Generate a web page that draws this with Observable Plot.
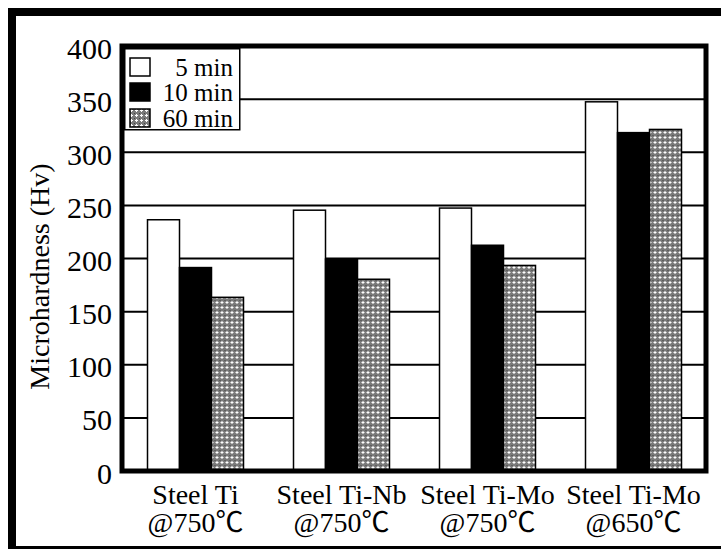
<!DOCTYPE html>
<html>
<head>
<meta charset="utf-8">
<script src="https://cdn.jsdelivr.net/npm/d3@7"></script>
<script src="https://cdn.jsdelivr.net/npm/@observablehq/plot@0.6"></script>
<style>
  html, body { margin: 0; padding: 0; background: white; overflow: hidden; }
  #wrap { position: relative; width: 721px; height: 551px; }
  .layer { position: absolute; left: 0; top: 0; }
  #border { position: absolute; left: 8px; top: 8px; width: 730px; height: 530px;
            border-top: 8px solid black; border-left: 8px solid black; border-bottom: 3px solid black; }
  #legend { position: absolute; left: 124px; top: 48px; }
</style>
</head>
<body>
<svg width="0" height="0" style="position:absolute">
  <defs>
    <pattern id="hatch60" width="5" height="5" patternUnits="userSpaceOnUse">
      <rect width="5" height="5" fill="#7a7a7a"></rect>
      <rect x="2" y="1" width="1" height="3" fill="white"></rect>
      <rect x="1" y="2" width="3" height="1" fill="white"></rect>
      <rect x="0" y="0" width="1" height="1" fill="#444"></rect>
    </pattern>
  </defs>
</svg>
<div id="wrap">
  <div id="border"></div>
  <div id="base" class="layer"></div>
  <div id="bars" class="layer"></div>
  <div id="frame" class="layer"></div>
  <div id="legend"></div>
</div>
<script>
const groups = ["Steel Ti\n@750℃", "Steel Ti-Nb\n@750℃", "Steel Ti-Mo\n@750℃", "Steel Ti-Mo\n@650℃"];
const series = ["5 min", "10 min", "60 min"];
const min5  = [236, 245, 247, 347];
const min10 = [191, 199, 212, 318];
const min60 = [163, 180, 193, 321];
const yTicks = [0, 50, 100, 150, 200, 250, 300, 350, 400];
const gridVals = [50, 100, 150, 200, 250, 300, 350];
const fills = ["white", "black", "url(#hatch60)"];

const valuesBySeries = [min5, min10, min60];
const data = [];
groups.forEach((g, i) => series.forEach((s, j) => data.push({group: g, series: s, value: valuesBySeries[j][i]})));

const font = "'Liberation Serif', 'Noto Sans CJK JP', serif";
const common = {
  width: 721,
  height: 551,
  marginLeft: 121.5,
  marginRight: 15.5,
  marginTop: 45.5,
  marginBottom: 80.5,
  style: {fontFamily: font, fontSize: "28px", color: "black", background: "transparent"}
};

// Base layer: grid lines, y tick labels, y label
const base = Plot.plot({
  ...common,
  x: {axis: null},
  y: {domain: [0, 400], axis: null},
  marks: [
    Plot.ruleY(gridVals, {stroke: "black", strokeWidth: 2}),
    Plot.text(yTicks, {y: d => d, text: d => String(d), frameAnchor: "left", textAnchor: "end", dx: -10, dy: 3, fontSize: 30}),
    Plot.text(["Microhardness (Hv)"], {frameAnchor: "left", textAnchor: "middle", rotate: -90, dx: -82, dy: 18, fontSize: 28})
  ]
});
document.getElementById("base").appendChild(base);

// Bars layer: grouped bars by facet and category labels
const bars = Plot.plot({
  ...common,
  fx: {domain: groups, paddingInner: 0.33, paddingOuter: 0.165, label: null, tickSize: 0, tickPadding: 13},
  x: {domain: series, padding: 0, axis: null},
  y: {domain: [0, 400], axis: null},
  color: {domain: series, range: fills},
  marks: [
    Plot.barY(data, {fx: "group", x: "series", y: "value", fill: "series", stroke: "black", strokeWidth: 1.5})
  ]
});
document.getElementById("bars").appendChild(bars);

// Frame layer on top
const frame = Plot.plot({
  ...common,
  x: {axis: null},
  y: {domain: [0, 400], axis: null},
  marks: [Plot.frame({stroke: "black", strokeWidth: 5})]
});
document.getElementById("frame").appendChild(frame);

// Legend
const lg = d3.select("#legend").append("svg").attr("width", 117).attr("height", 83)
  .style("font-family", font).style("font-size", "25px");
lg.append("rect").attr("x", 0.75).attr("y", 0.75).attr("width", 115).attr("height", 81)
  .attr("fill", "white").attr("stroke", "black").attr("stroke-width", 1.5);
const rowY = [19, 44, 70];
series.forEach((s, j) => {
  lg.append("rect").attr("x", 6).attr("y", rowY[j] - 9).attr("width", 20).attr("height", 18)
    .attr("fill", fills[j]).attr("stroke", "black").attr("stroke-width", 1.5);
  lg.append("text").attr("x", 109).attr("y", rowY[j]).attr("dy", "0.34em")
    .attr("text-anchor", "end").text(s);
});
</script>
</body>
</html>
